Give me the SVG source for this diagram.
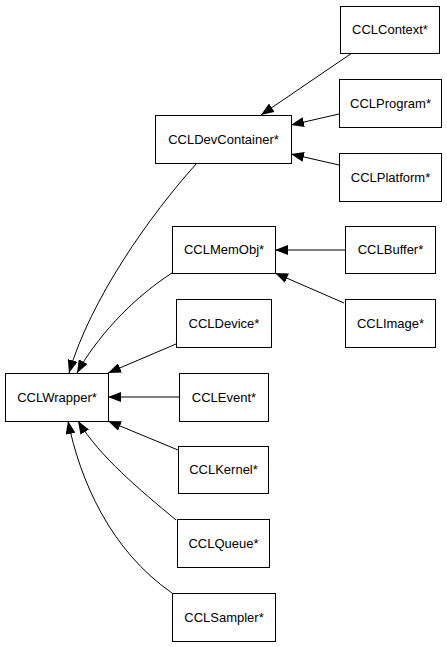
<svg xmlns="http://www.w3.org/2000/svg" width="447" height="647" viewBox="0 0 447 647">
<style>
.box{fill:#fff;stroke:#000;stroke-width:1}
.lbl{font-family:"Liberation Sans",Arial,sans-serif;font-size:13px;fill:#000;text-anchor:middle}
.edge{fill:none;stroke:#000;stroke-width:1;marker-end:url(#arr)}
</style>
<defs>
<marker id="arr" markerUnits="userSpaceOnUse" markerWidth="13" markerHeight="10" refX="13" refY="5" orient="auto" viewBox="0 0 13 10">
<path d="M0,0 L13,5 L0,10 z" fill="#000"/>
</marker>
</defs>
<rect width="447" height="647" fill="#fff"/>
<g id="connectors">
<path class="edge" d="M352,53 L261,115"/>
<path class="edge" d="M339,114 L291,125"/>
<path class="edge" d="M339,165 L291,154"/>
<path class="edge" d="M345,250 L275,250"/>
<path class="edge" d="M344,303 L275,273"/>
<path class="edge" d="M176,344 L108,373"/>
<path class="edge" d="M179,397 L108,397"/>
<path class="edge" d="M178,450 L108,421"/>
<path class="edge" d="M176,520 C140,490 100,457 78,421"/>
<path class="edge" d="M172,593 C110,550 80,480 68,421"/>
<path class="edge" d="M197,163 C150,215 90,300 69,373"/>
<path class="edge" d="M172,273 C130,300 95,340 77,373"/>
</g>
<g id="CCLContext"><rect class="box" x="340.5" y="6.5" width="99" height="47"/><text class="lbl" x="390" y="34">CCLContext*</text></g>
<g id="CCLProgram"><rect class="box" x="339.5" y="79.5" width="102" height="48"/><text class="lbl" x="390.5" y="108">CCLProgram*</text></g>
<g id="CCLPlatform"><rect class="box" x="339.5" y="153.5" width="102" height="48"/><text class="lbl" x="390.5" y="182">CCLPlatform*</text></g>
<g id="CCLDevContainer"><rect class="box" x="155.5" y="115.5" width="136" height="48"/><text class="lbl" x="223.5" y="144">CCLDevContainer*</text></g>
<g id="CCLMemObj"><rect class="box" x="172.5" y="226.5" width="103" height="47"/><text class="lbl" x="224" y="254">CCLMemObj*</text></g>
<g id="CCLBuffer"><rect class="box" x="345.5" y="226.5" width="90" height="47"/><text class="lbl" x="390.5" y="254">CCLBuffer*</text></g>
<g id="CCLImage"><rect class="box" x="345.5" y="299.5" width="90" height="48"/><text class="lbl" x="390.5" y="328">CCLImage*</text></g>
<g id="CCLDevice"><rect class="box" x="176.5" y="299.5" width="95" height="48"/><text class="lbl" x="224" y="328">CCLDevice*</text></g>
<g id="CCLWrapper"><rect class="box" x="5.5" y="373.5" width="103" height="48"/><text class="lbl" x="57" y="402">CCLWrapper*</text></g>
<g id="CCLEvent"><rect class="box" x="179.5" y="373.5" width="89" height="48"/><text class="lbl" x="224" y="402">CCLEvent*</text></g>
<g id="CCLKernel"><rect class="box" x="178.5" y="446.5" width="90" height="47"/><text class="lbl" x="223.5" y="474">CCLKernel*</text></g>
<g id="CCLQueue"><rect class="box" x="177.5" y="519.5" width="92" height="48"/><text class="lbl" x="223.5" y="548">CCLQueue*</text></g>
<g id="CCLSampler"><rect class="box" x="172.5" y="593.5" width="103" height="48"/><text class="lbl" x="224" y="622">CCLSampler*</text></g>
</svg>
